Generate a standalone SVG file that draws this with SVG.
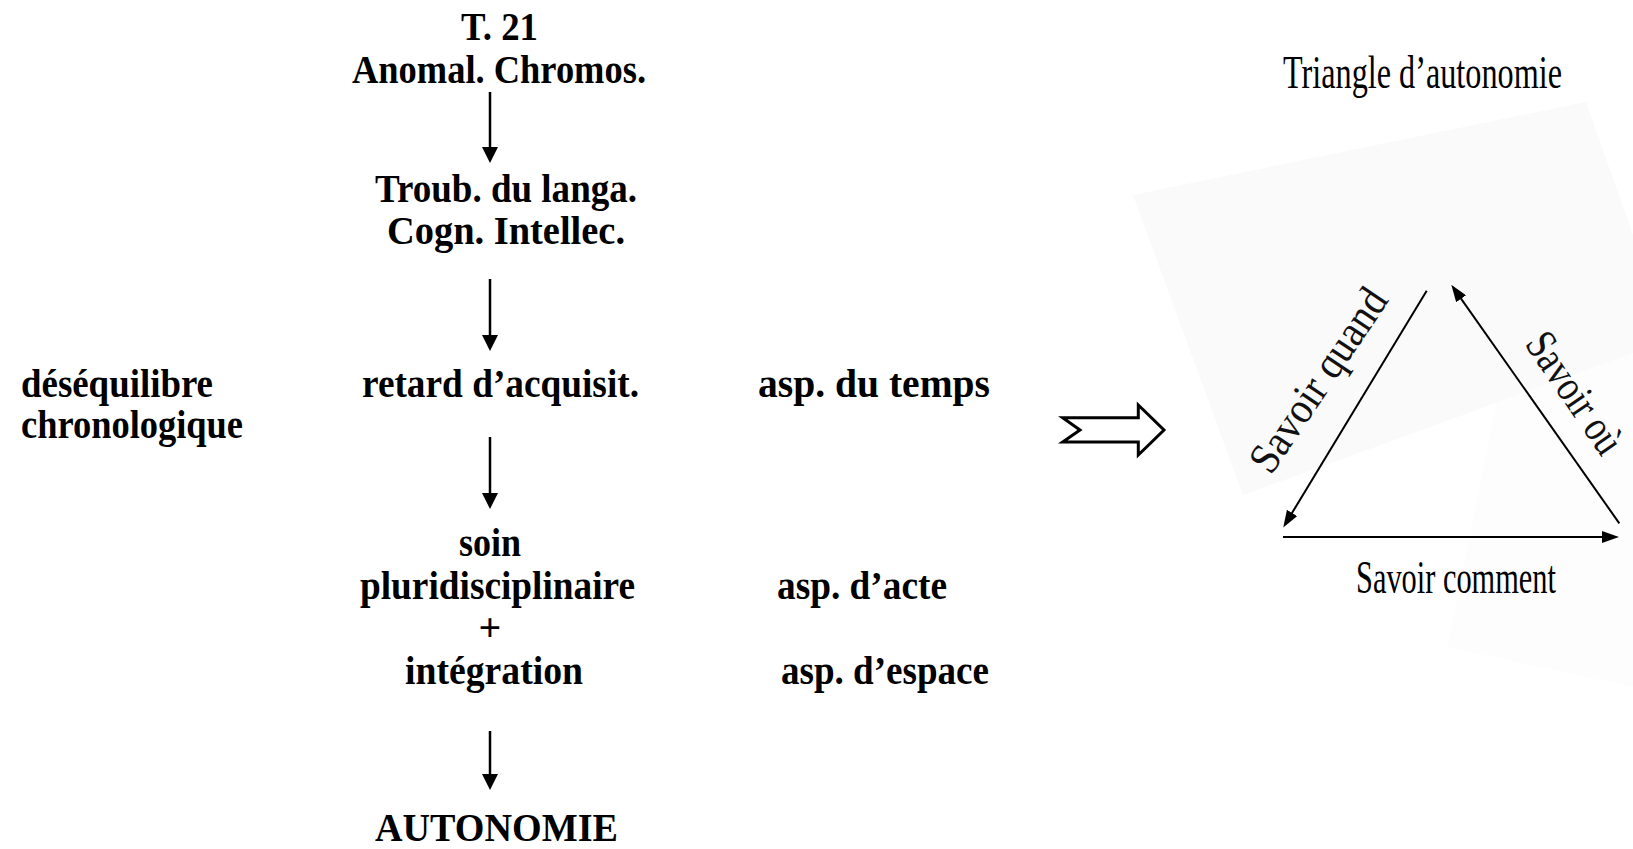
<svg xmlns="http://www.w3.org/2000/svg" width="1633" height="849" viewBox="0 0 1633 849">
<defs>
<style>
.b{font-family:"Liberation Serif","Times New Roman",serif;font-weight:bold;font-size:40px;fill:#000}
.r{font-family:"Liberation Serif","Times New Roman",serif;font-size:46px;fill:#000}
.rl{font-family:"Liberation Serif","Times New Roman",serif;font-size:44px;fill:#111}
.v{stroke:#000;stroke-width:2.5;fill:none}
.t{stroke:#000;stroke-width:2;fill:none}
</style>
<marker id="ah" viewBox="0 0 16 16" refX="8" refY="8" markerWidth="16" markerHeight="16" markerUnits="userSpaceOnUse" orient="auto">
<path d="M0,0 L16,8 L0,16 z" fill="#000"/>
</marker>
<marker id="th" viewBox="0 0 17 12" refX="9" refY="6" markerWidth="17" markerHeight="12" markerUnits="userSpaceOnUse" orient="auto">
<path d="M0,0 L17,6 L0,12 z" fill="#000"/>
</marker>
</defs>
<rect width="1633" height="849" fill="#fff"/>
<g id="background">
<polygon points="1133,195 1586,102 1633,235 1633,353 1496,403 1243,495" fill="#fafafa"/>
<polygon points="1496,403 1633,353 1633,687 1447,647" fill="#fdfdfd"/>
</g>
<g id="connectors">
<line class="v" x1="490" y1="92" x2="490" y2="155" marker-end="url(#ah)"/>
<line class="v" x1="490" y1="279" x2="490" y2="343" marker-end="url(#ah)"/>
<line class="v" x1="490" y1="437" x2="490" y2="501" marker-end="url(#ah)"/>
<line class="v" x1="490" y1="731" x2="490" y2="782" marker-end="url(#ah)"/>
<polygon id="implies" points="1062.7,417.7 1080,430 1062.7,442 1138.3,442 1138.3,455 1164,430 1138.3,405 1138.3,417.7" fill="#fff" stroke="#000" stroke-width="3"/>
<line class="t" x1="1426.7" y1="290.7" x2="1287.4" y2="520.6" marker-end="url(#th)"/>
<line class="t" x1="1619.3" y1="523.3" x2="1455.9" y2="291.4" marker-end="url(#th)"/>
<line class="t" x1="1283" y1="537" x2="1611" y2="537" marker-end="url(#th)"/>
</g>
<g id="n-t21"><text class="b" x="461" y="40" textLength="77" lengthAdjust="spacingAndGlyphs">T. 21</text>
<text class="b" x="352" y="83" textLength="294" lengthAdjust="spacingAndGlyphs">Anomal. Chromos.</text></g>
<g id="n-troub"><text class="b" x="375" y="202" textLength="262" lengthAdjust="spacingAndGlyphs">Troub. du langa.</text>
<text class="b" x="387" y="244" textLength="238" lengthAdjust="spacingAndGlyphs">Cogn. Intellec.</text></g>
<g id="n-deseq"><text class="b" x="21" y="397" textLength="192" lengthAdjust="spacingAndGlyphs">déséquilibre</text>
<text class="b" x="21" y="438" textLength="222" lengthAdjust="spacingAndGlyphs">chronologique</text></g>
<g id="n-retard"><text class="b" x="362" y="397" textLength="277" lengthAdjust="spacingAndGlyphs">retard d’acquisit.</text></g>
<g id="n-temps"><text class="b" x="758" y="397" textLength="232" lengthAdjust="spacingAndGlyphs">asp. du temps</text></g>
<g id="n-soin"><text class="b" x="459" y="556" textLength="62" lengthAdjust="spacingAndGlyphs">soin</text>
<text class="b" x="360" y="599" textLength="275" lengthAdjust="spacingAndGlyphs">pluridisciplinaire</text>
<text class="b" x="490" y="641" text-anchor="middle">+</text>
<text class="b" x="405" y="684" textLength="178" lengthAdjust="spacingAndGlyphs">intégration</text></g>
<g id="n-acte"><text class="b" x="777" y="599" textLength="170" lengthAdjust="spacingAndGlyphs">asp. d’acte</text></g>
<g id="n-espace"><text class="b" x="781" y="684" textLength="208" lengthAdjust="spacingAndGlyphs">asp. d’espace</text></g>
<g id="n-autonomie"><text class="b" x="375" y="841" textLength="243" lengthAdjust="spacingAndGlyphs">AUTONOMIE</text></g>
<g id="triangle">
<text class="r" x="1283" y="88" textLength="279" lengthAdjust="spacingAndGlyphs">Triangle d’autonomie</text>
<text class="r" x="1356" y="593" textLength="200" lengthAdjust="spacingAndGlyphs">Savoir comment</text>
<text class="rl" x="1271" y="476" transform="rotate(-56 1271 476)" textLength="212" lengthAdjust="spacingAndGlyphs">Savoir quand</text>
<text class="rl" x="1524" y="344" transform="rotate(55.6 1524 344)" textLength="138" lengthAdjust="spacingAndGlyphs">Savoir où</text>
</g>
</svg>
